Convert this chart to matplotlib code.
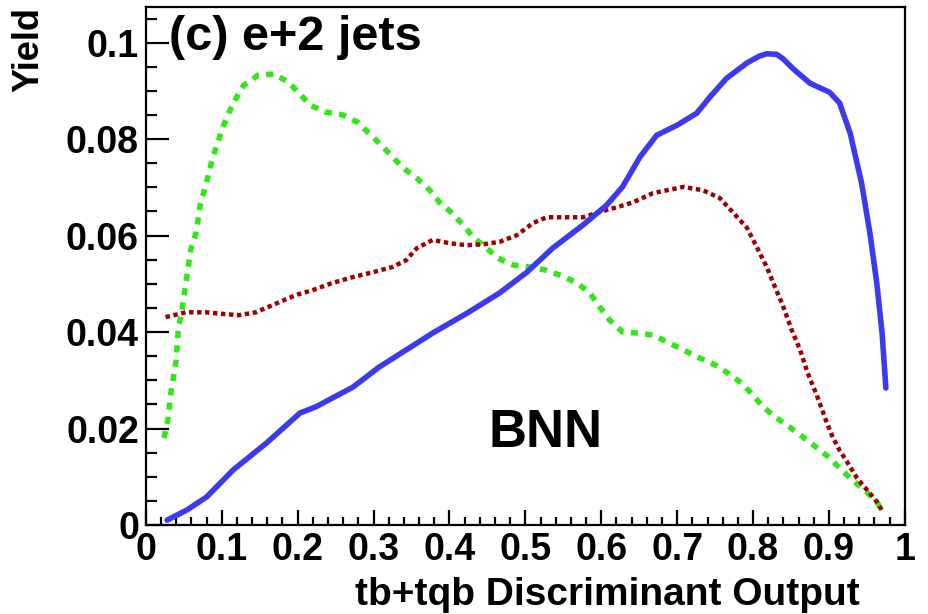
import matplotlib
matplotlib.use('Agg')
import matplotlib.pyplot as plt
from matplotlib.ticker import MultipleLocator, FuncFormatter

# tb+tqb signal (blue, solid)
sig_x = [0.028, 0.054, 0.080, 0.115, 0.159, 0.203, 0.224, 0.273, 0.307, 0.343,
         0.378, 0.423, 0.466, 0.502, 0.536, 0.576, 0.607, 0.628, 0.651, 0.673,
         0.700, 0.726, 0.743, 0.765, 0.792, 0.808, 0.818, 0.831, 0.840, 0.852,
         0.875, 0.901, 0.914, 0.928, 0.943, 0.954, 0.963, 0.970, 0.975]
sig_y = [0.0010, 0.0031, 0.0058, 0.0114, 0.0170, 0.0232, 0.0245, 0.0286, 0.0327, 0.0363,
         0.0398, 0.0439, 0.0481, 0.0524, 0.0574, 0.0622, 0.0663, 0.0701, 0.0763, 0.0808,
         0.0829, 0.0854, 0.0887, 0.0926, 0.0958, 0.0972, 0.0977, 0.0976, 0.0966, 0.0947,
         0.0916, 0.0897, 0.0875, 0.0812, 0.0709, 0.0605, 0.0502, 0.0398, 0.0284]

# W+jets (green, dashed)
w_x = [0.024, 0.029, 0.033, 0.040, 0.043, 0.047, 0.053, 0.059, 0.066, 0.072,
       0.078, 0.083, 0.088, 0.095, 0.101, 0.109, 0.119, 0.129, 0.148, 0.169,
       0.188, 0.202, 0.217, 0.237, 0.260, 0.279, 0.294, 0.310, 0.325, 0.339,
       0.357, 0.374, 0.387, 0.403, 0.418, 0.431, 0.449, 0.464, 0.484, 0.506,
       0.528, 0.549, 0.568, 0.585, 0.598, 0.611, 0.628, 0.647, 0.668, 0.690,
       0.708, 0.730, 0.750, 0.767, 0.785, 0.800, 0.813, 0.831, 0.848, 0.866,
       0.884, 0.901, 0.914, 0.931, 0.950, 0.963, 0.971]
w_y = [0.0180, 0.0218, 0.0274, 0.0342, 0.0410, 0.0439, 0.0504, 0.0570, 0.0605, 0.0667,
       0.0698, 0.0730, 0.0761, 0.0794, 0.0823, 0.0854, 0.0885, 0.0912, 0.0933, 0.0935,
       0.0918, 0.0895, 0.0870, 0.0856, 0.0850, 0.0835, 0.0812, 0.0788, 0.0763, 0.0740,
       0.0719, 0.0694, 0.0669, 0.0647, 0.0622, 0.0597, 0.0574, 0.0553, 0.0539, 0.0535,
       0.0528, 0.0516, 0.0502, 0.0481, 0.0452, 0.0425, 0.0400, 0.0398, 0.0394, 0.0377,
       0.0363, 0.0346, 0.0332, 0.0315, 0.0294, 0.0269, 0.0245, 0.0222, 0.0203, 0.0182,
       0.0160, 0.0139, 0.0118, 0.0093, 0.0068, 0.0048, 0.0027]

# ttbar (dark red, dotted)
tt_x = [0.026, 0.053, 0.079, 0.105, 0.123, 0.145, 0.167, 0.198, 0.220, 0.246,
        0.273, 0.299, 0.325, 0.343, 0.357, 0.378, 0.401, 0.423, 0.444, 0.466,
        0.489, 0.510, 0.528, 0.555, 0.576, 0.598, 0.621, 0.642, 0.668, 0.708,
        0.734, 0.756, 0.773, 0.792, 0.805, 0.818, 0.829, 0.839, 0.851, 0.862,
        0.872, 0.884, 0.897, 0.905, 0.914, 0.925, 0.937, 0.950, 0.963, 0.971]
tt_y = [0.0431, 0.0441, 0.0441, 0.0437, 0.0435, 0.0441, 0.0456, 0.0477, 0.0487, 0.0502,
        0.0514, 0.0524, 0.0535, 0.0549, 0.0574, 0.0591, 0.0584, 0.0580, 0.0582, 0.0587,
        0.0601, 0.0626, 0.0638, 0.0638, 0.0638, 0.0649, 0.0659, 0.0669, 0.0688, 0.0701,
        0.0694, 0.0678, 0.0649, 0.0616, 0.0576, 0.0535, 0.0493, 0.0456, 0.0404, 0.0363,
        0.0315, 0.0269, 0.0213, 0.0182, 0.0155, 0.0128, 0.0097, 0.0073, 0.0048, 0.0027]

plt.rcParams['font.family'] = ['Liberation Sans', 'DejaVu Sans']
plt.rcParams['font.weight'] = 'bold'

fig = plt.figure(figsize=(9.29, 6.14), dpi=100)
ax = fig.add_axes([0.157, 0.145, 0.817, 0.8436])

ax.plot(w_x, w_y, color='#33e61a', lw=4.0, ls=(0, (1.3, 1.3)), solid_capstyle='butt',
        solid_joinstyle='round')
ax.plot(tt_x, tt_y, color='#a00000', lw=3.2, ls=(0, (1.0, 0.8)), solid_capstyle='butt')
ax.plot(sig_x, sig_y, color='#3a3af0', lw=4.0, solid_capstyle='round', solid_joinstyle='round')

ax.set_xlim(0, 1)
ax.set_ylim(0, 0.1074)

ax.xaxis.set_major_locator(MultipleLocator(0.1))
ax.xaxis.set_minor_locator(MultipleLocator(0.02))
ax.yaxis.set_major_locator(MultipleLocator(0.02))
ax.yaxis.set_minor_locator(MultipleLocator(0.005))
fmt = FuncFormatter(lambda v, p: '0' if abs(v) < 1e-9 else ('%g' % round(v, 3)))
ax.xaxis.set_major_formatter(fmt)
ax.yaxis.set_major_formatter(fmt)

ax.tick_params(axis='both', which='both', direction='in', width=1.6, top=False, right=False,
               labelsize=27)
ax.tick_params(axis='x', which='major', length=11, pad=5)
ax.tick_params(axis='x', which='minor', length=5.5)
ax.tick_params(axis='y', which='major', length=16.5, pad=5)
ax.tick_params(axis='y', which='minor', length=8)
for s in ax.spines.values():
    s.set_linewidth(1.6)

ax.text(0.941, -0.1544, 'tb+tqb Discriminant Output', transform=ax.transAxes,
        fontsize=28, fontweight='bold', ha='right', va='baseline')
ax.set_ylabel('Yield', fontsize=26, fontweight='bold', loc='top', labelpad=14)

ax.text(0.030, 0.985, '(c) e+2 jets', transform=ax.transAxes, fontsize=35,
        fontweight='bold', va='top', ha='left')
ax.text(0.526, 0.178, 'BNN', transform=ax.transAxes, fontsize=38,
        fontweight='bold', va='center', ha='center')

fig.savefig('out.png', dpi=100)
